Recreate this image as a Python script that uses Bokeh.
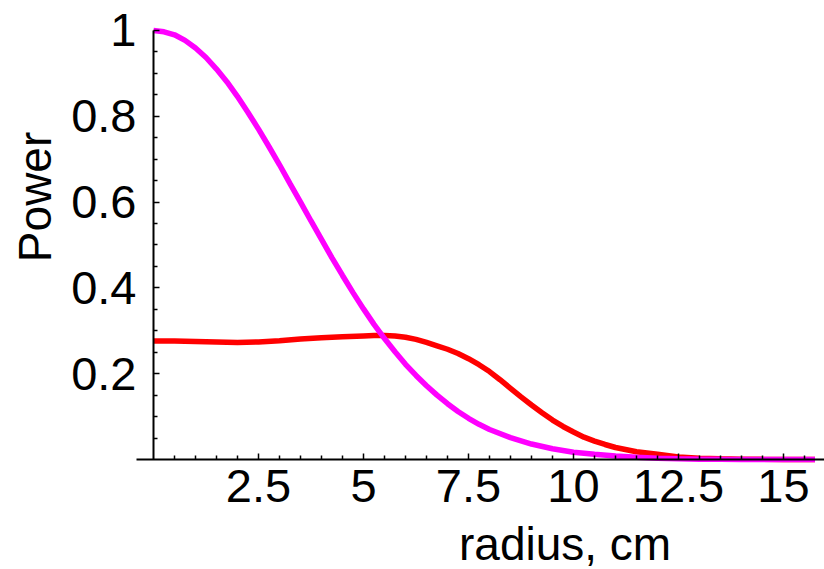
import math
from bokeh.plotting import figure
from bokeh.models import Range1d, FixedTicker, Label
from bokeh.embed import file_html
from bokeh.resources import INLINE

# ---- data ----
radius_magenta = [0.0, 0.25, 0.5, 0.75, 1.0, 1.25, 1.5, 1.75, 2.0, 2.25, 2.5, 2.75,
                  3.0, 3.25, 3.5, 3.75, 4.0, 4.25, 4.5, 4.75, 5.0, 5.25, 5.5, 5.75,
                  6.0, 6.25, 6.5, 6.75, 7.0, 7.25, 7.5, 7.75, 8.0, 8.5, 9.0, 9.5,
                  10.0, 10.5, 11.0, 11.5, 12.0, 12.5, 13.0, 13.5, 14.0, 14.5, 15.0,
                  15.5, 15.75]
power_magenta = [1.000, 0.997, 0.990, 0.977, 0.959, 0.937, 0.910, 0.880, 0.846,
                 0.809, 0.770, 0.729, 0.687, 0.643, 0.600, 0.556, 0.513, 0.470,
                 0.429, 0.389, 0.351, 0.315, 0.282, 0.251, 0.222, 0.196, 0.172,
                 0.150, 0.130, 0.112, 0.096, 0.082, 0.070, 0.051, 0.036, 0.025,
                 0.017, 0.012, 0.008, 0.005, 0.003, 0.0015, 0.0007, 0.0003,
                 0.0001, 0.0, 0.0, 0.0, 0.0]
radius_red = [0.0, 0.5, 1.0, 1.5, 2.0, 2.5, 3.0, 3.5, 4.0, 4.5, 5.0, 5.25, 5.5,
              5.75, 6.0, 6.25, 6.5, 6.75, 7.0, 7.25, 7.5, 7.75, 8.0, 8.25, 8.5,
              8.75, 9.0, 9.25, 9.5, 9.75, 10.0, 10.25, 10.5, 10.75, 11.0, 11.5,
              12.0, 12.5, 13.0, 13.5, 14.0, 14.5, 15.0, 15.5, 15.75]
power_red = [0.276, 0.276, 0.275, 0.274, 0.273, 0.274, 0.277, 0.281, 0.284, 0.286,
             0.288, 0.289, 0.289, 0.288, 0.285, 0.280, 0.273, 0.265, 0.257, 0.247,
             0.235, 0.221, 0.205, 0.186, 0.166, 0.146, 0.127, 0.109, 0.092, 0.077,
             0.064, 0.052, 0.043, 0.035, 0.028, 0.018, 0.012, 0.006, 0.003,
             0.0015, 0.0007, 0.0003, 0.0001, 0.0, 0.0]

x_major = [2.5, 5.0, 7.5, 10.0, 12.5, 15.0]
x_major_labels = ["2.5", "5", "7.5", "10", "12.5", "15"]
x_minor = [0.5, 1.0, 1.5, 2.0, 3.0, 3.5, 4.0, 4.5, 5.5, 6.0, 6.5, 7.0, 8.0, 8.5,
           9.0, 9.5, 10.5, 11.0, 11.5, 12.0, 13.0, 13.5, 14.0, 14.5, 15.5]
y_major = [0.2, 0.4, 0.6, 0.8, 1.0]
y_major_labels = ["0.2", "0.4", "0.6", "0.8", "1"]
y_minor = [0.05, 0.1, 0.15, 0.25, 0.3, 0.35, 0.45, 0.5, 0.55, 0.65, 0.7, 0.75,
           0.85, 0.9, 0.95]

FONT = "Liberation Sans"

p = figure(width=824, height=569, output_backend="svg", toolbar_location=None,
           x_range=Range1d(-3.643, 15.976), y_range=Range1d(-0.2564, 1.0699),
           min_border=0)
p.outline_line_color = None
p.xgrid.visible = False
p.ygrid.visible = False
p.background_fill_color = "white"
p.border_fill_color = "white"

p.line(radius_red, power_red, line_color="#ff0000", line_width=5.5)
p.line(radius_magenta, power_magenta, line_color="#ff00ff", line_width=5.5)

for ax in (p.xaxis[0], p.yaxis[0]):
    ax.fixed_location = 0
    ax.axis_line_width = 2
    ax.axis_line_color = "black"
    ax.major_tick_in = 6
    ax.major_tick_out = 0
    ax.minor_tick_in = 4
    ax.minor_tick_out = 0
    ax.major_tick_line_width = 1.5
    ax.minor_tick_line_width = 1.5
    ax.major_label_text_font = FONT
    ax.major_label_text_font_size = "47px"
    ax.major_label_text_color = "black"

p.xaxis[0].ticker = FixedTicker(ticks=x_major, minor_ticks=x_minor)
p.xaxis[0].major_label_overrides = dict(zip(x_major, x_major_labels))
p.xaxis[0].major_label_standoff = 10
p.xaxis[0].bounds = (-0.405, 15.976)
p.yaxis[0].ticker = FixedTicker(ticks=y_major, minor_ticks=y_minor)
p.yaxis[0].major_label_overrides = dict(zip(y_major, y_major_labels))
p.yaxis[0].major_label_standoff = 17
p.yaxis[0].bounds = (0, 1)

p.add_layout(Label(x=9.8, y=-0.198, text="radius, cm", text_align="center",
                   text_baseline="alphabetic", text_font=FONT, text_font_size="46px",
                   text_color="black"))
p.add_layout(Label(x=-2.83, y=0.612, text="Power", angle=math.pi / 2,
                   text_align="center", text_baseline="alphabetic",
                   text_font=FONT, text_font_size="46px", text_color="black"))

open("out.html", "w").write(file_html(p, INLINE))
